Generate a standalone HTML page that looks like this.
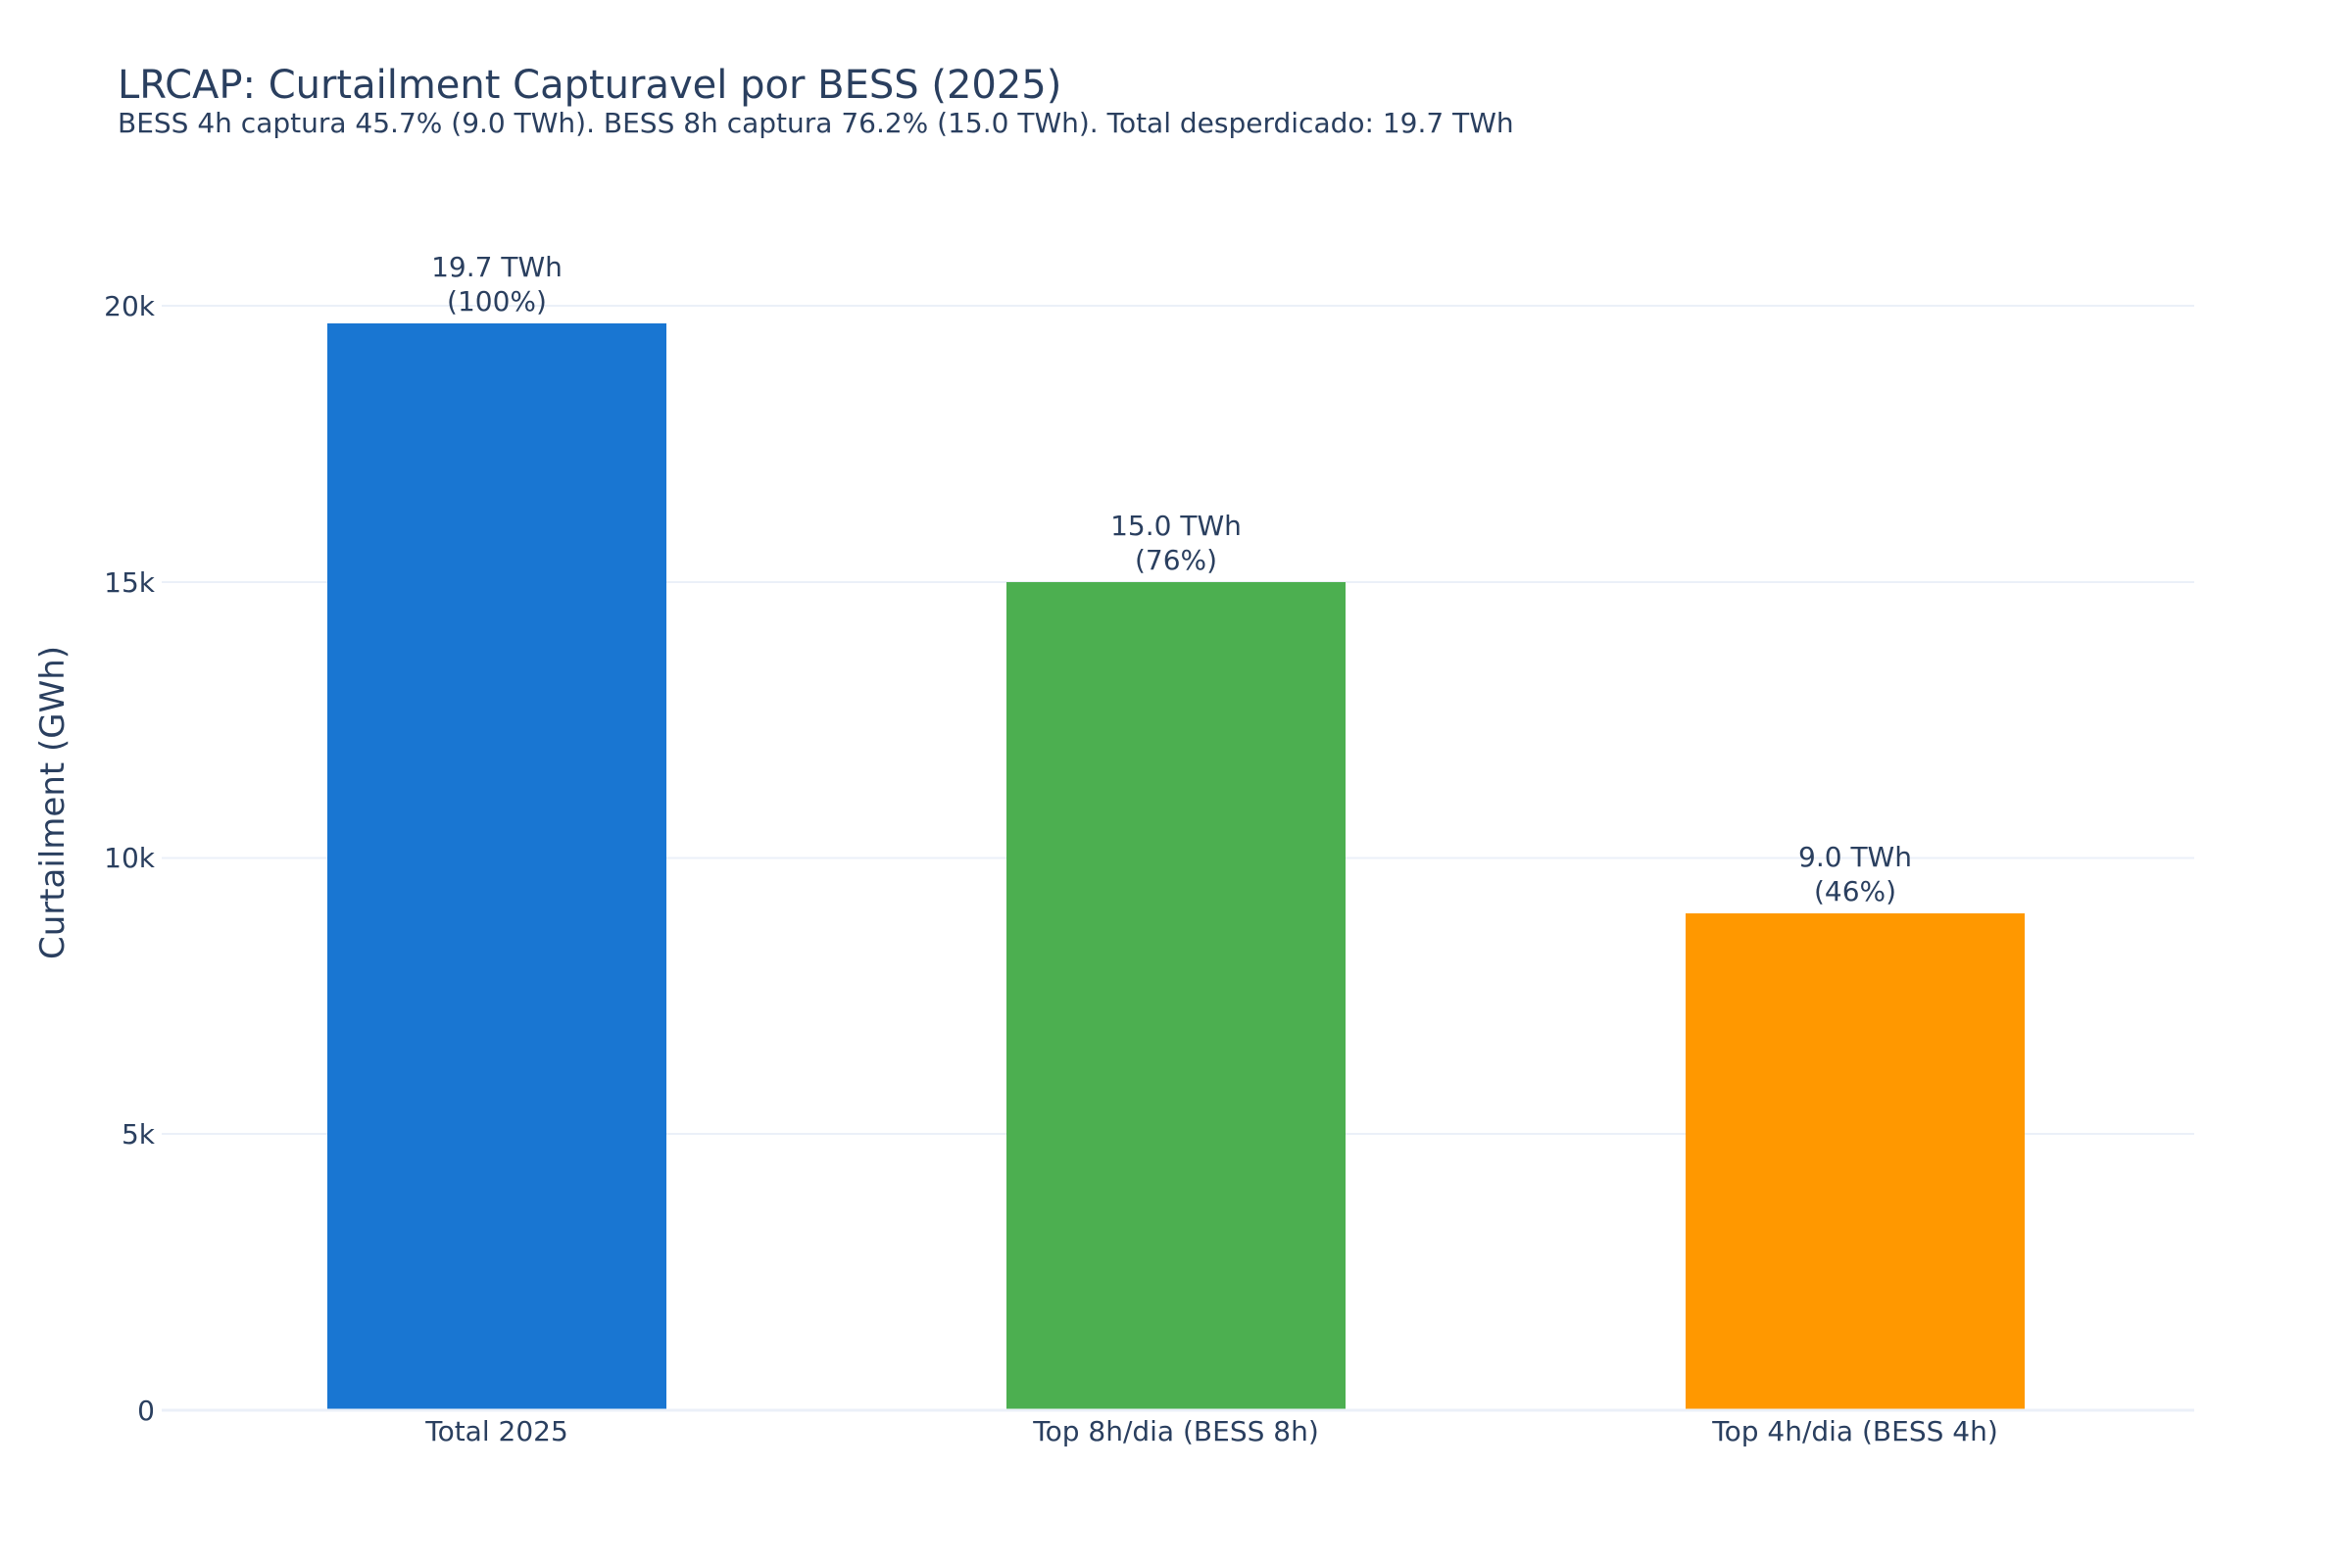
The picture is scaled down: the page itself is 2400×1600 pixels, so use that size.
<!DOCTYPE html>
<html><head><meta charset="utf-8"><style>
html,body{margin:0;padding:0;background:#fff;}
svg{display:block;font-family:"DejaVu Sans","Liberation Sans",sans-serif;fill:#2a3f5f;}
</style></head><body>
<svg width="2400" height="1600" viewBox="0 0 2400 1600" xmlns="http://www.w3.org/2000/svg">
<rect width="2400" height="1600" fill="#fff"/>
<g stroke="#EBF0F8" stroke-width="2">
<line x1="165" x2="2239" y1="312" y2="312"/>
<line x1="165" x2="2239" y1="594" y2="594"/>
<line x1="165" x2="2239" y1="875.5" y2="875.5"/>
<line x1="165" x2="2239" y1="1157" y2="1157"/>
</g>
<rect x="334" y="330" width="346" height="1109" fill="#1976D2"/>
<rect x="1027" y="594" width="346" height="845" fill="#4CAF50"/>
<rect x="1720" y="932" width="346" height="507" fill="#FF9800"/>
<line x1="165" x2="2239" y1="1439" y2="1439" stroke="#EBF0F8" stroke-width="3"/>
<g font-size="28" text-anchor="end">
<text x="158" y="322">20k</text>
<text x="158" y="604">15k</text>
<text x="158" y="885">10k</text>
<text x="158" y="1167">5k</text>
<text x="158" y="1449">0</text>
</g>
<g font-size="28" text-anchor="middle">
<text x="507" y="1470">Total 2025</text>
<text x="1200" y="1470">Top 8h/dia (BESS 8h)</text>
<text x="1893" y="1470">Top 4h/dia (BESS 4h)</text>
<text x="507" y="282">19.7 TWh</text>
<text x="507" y="317">(100%)</text>
<text x="1200" y="546">15.0 TWh</text>
<text x="1200" y="581">(76%)</text>
<text x="1893" y="884">9.0 TWh</text>
<text x="1893" y="919">(46%)</text>
</g>
<text transform="translate(65,819) rotate(-90)" font-size="34" text-anchor="middle">Curtailment (GWh)</text>
<text x="120" y="100" font-size="40">LRCAP: Curtailment Capturavel por BESS (2025)</text>
<text x="120" y="135" font-size="28">BESS 4h captura 45.7% (9.0 TWh). BESS 8h captura 76.2% (15.0 TWh). Total desperdicado: 19.7 TWh</text>
</svg>
</body></html>
